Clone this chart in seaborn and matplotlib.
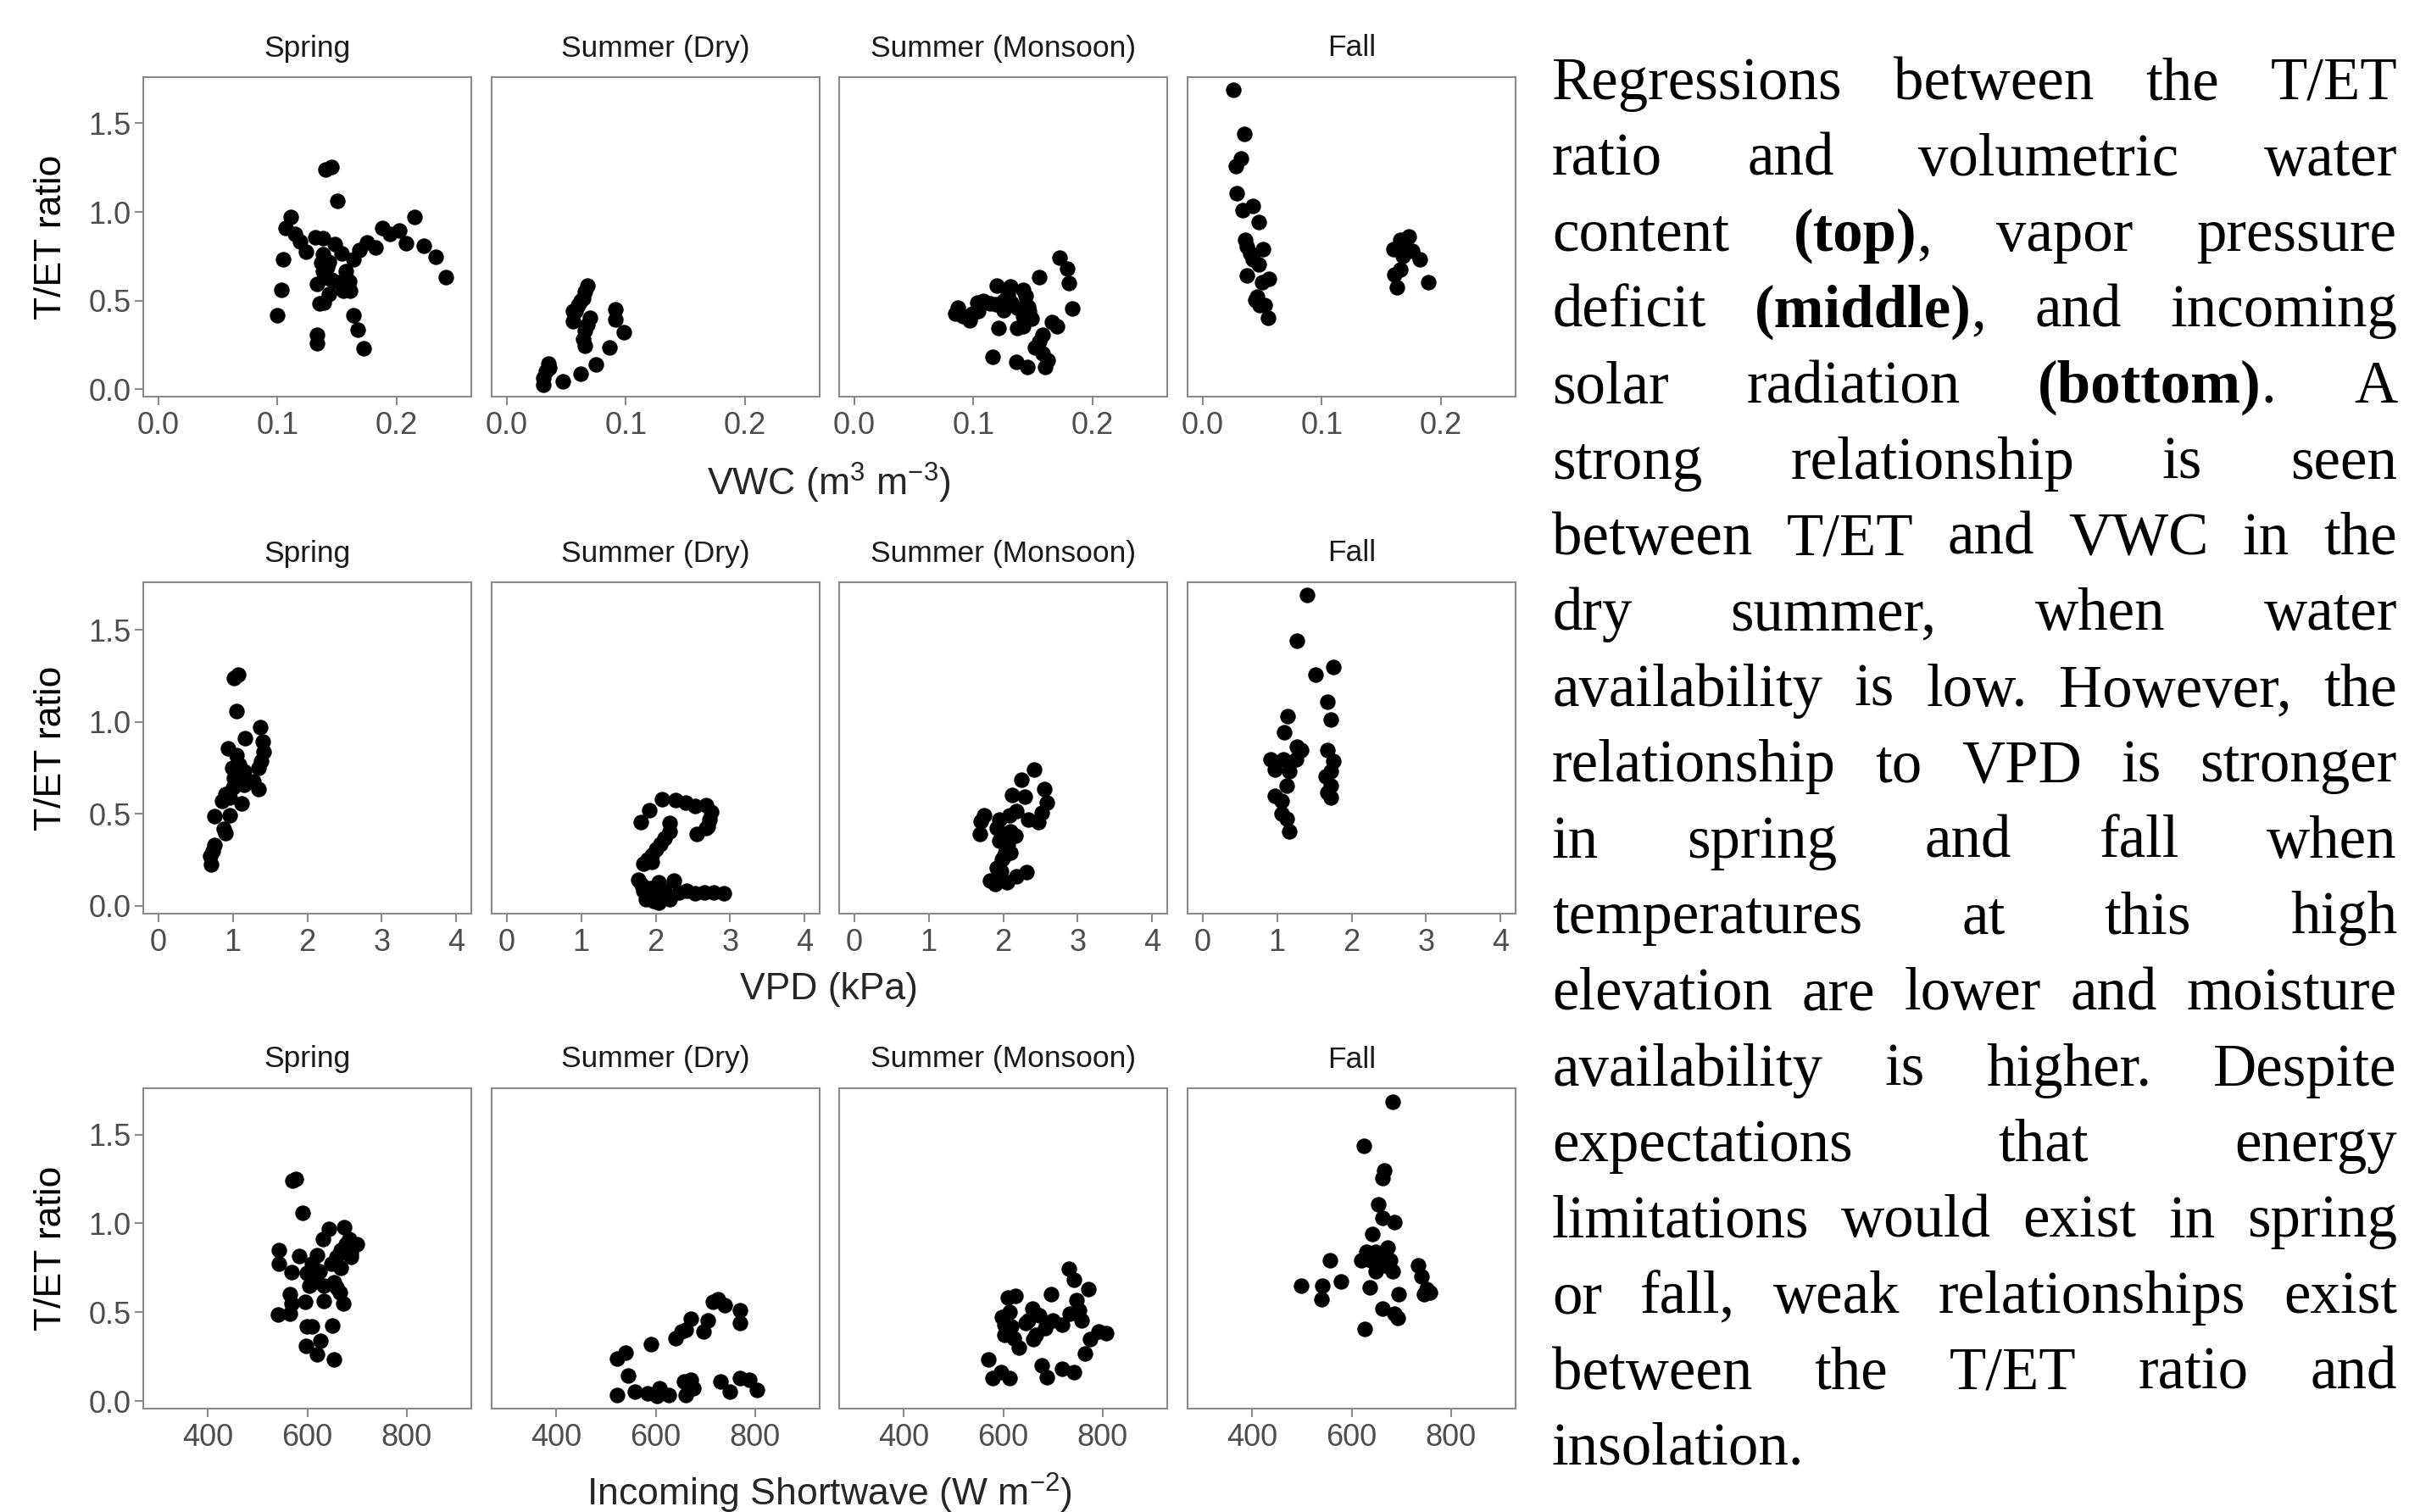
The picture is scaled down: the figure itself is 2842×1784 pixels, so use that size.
import matplotlib
matplotlib.use("Agg")
import matplotlib.pyplot as plt
import seaborn as sns
import pandas as pd

# ---------------- data ----------------
seasons = ["Spring", "Summer (Dry)", "Summer (Monsoon)", "Fall"]

# Row 1: VWC (m3 m-3) vs T/ET ratio
vwc_spring = [(0.140,1.241),(0.145,1.254),(0.150,1.062),(0.111,0.970),(0.107,0.911),(0.115,0.877),
              (0.119,0.834),(0.124,0.775),(0.132,0.858),(0.138,0.850),(0.148,0.818),(0.154,0.765),
              (0.138,0.762),(0.137,0.714),(0.143,0.717),(0.164,0.733),(0.169,0.786),(0.175,0.826),
              (0.182,0.799),(0.188,0.909),(0.194,0.874),(0.202,0.893),(0.215,0.973),(0.208,0.823),
              (0.223,0.807),(0.233,0.749),(0.241,0.634),(0.105,0.730),(0.103,0.559),(0.100,0.419),
              (0.133,0.594),(0.140,0.634),(0.145,0.618),(0.157,0.666),(0.151,0.602),(0.160,0.610),
              (0.155,0.554),(0.161,0.557),(0.143,0.538),(0.135,0.486),(0.139,0.490),(0.133,0.307),
              (0.133,0.259),(0.164,0.419),(0.167,0.334),(0.172,0.230),(0.138,0.666),(0.142,0.690)]
vwc_dry = [(0.068,0.585),(0.066,0.549),(0.064,0.512),(0.060,0.476),(0.056,0.439),(0.070,0.402),
           (0.068,0.366),(0.066,0.329),(0.064,0.283),(0.066,0.247),(0.056,0.384),(0.058,0.439),
           (0.091,0.448),(0.091,0.393),(0.098,0.320),(0.086,0.234),(0.075,0.142),(0.062,0.086),
           (0.047,0.045),(0.035,0.146),(0.033,0.100),(0.031,0.064),(0.031,0.027),(0.036,0.120),
           (0.062,0.500)]
vwc_monsoon = [(0.172,0.743),(0.179,0.682),(0.180,0.599),(0.183,0.457),(0.155,0.631),(0.120,0.586),
               (0.131,0.578),(0.142,0.562),(0.144,0.526),(0.129,0.538),(0.125,0.498),(0.132,0.490),
               (0.103,0.490),(0.108,0.498),(0.114,0.482),(0.119,0.478),(0.087,0.458),(0.085,0.427),
               (0.091,0.411),(0.097,0.387),(0.099,0.427),(0.104,0.442),(0.125,0.445),(0.137,0.458),
               (0.146,0.466),(0.147,0.442),(0.142,0.411),(0.149,0.398),(0.137,0.347),(0.142,0.355),
               (0.121,0.343),(0.166,0.379),(0.170,0.355),(0.158,0.307),(0.155,0.267),(0.152,0.235),
               (0.158,0.203),(0.162,0.163),(0.160,0.123),(0.116,0.182),(0.136,0.155),(0.145,0.126)]
vwc_fall = [(0.026,1.686),(0.035,1.440),(0.032,1.299),(0.028,1.258),(0.029,1.107),(0.034,1.010),
            (0.042,1.033),(0.047,0.942),(0.036,0.841),(0.037,0.805),(0.040,0.768),(0.042,0.731),
            (0.051,0.790),(0.047,0.704),(0.037,0.640),(0.056,0.622),(0.050,0.603),(0.044,0.503),
            (0.048,0.476),(0.052,0.476),(0.046,0.520),(0.055,0.402),(0.173,0.863),(0.166,0.841),
            (0.160,0.790),(0.170,0.790),(0.176,0.780),(0.168,0.750),(0.182,0.731),(0.166,0.677),
            (0.161,0.644),(0.189,0.603),(0.163,0.576)]

# Row 2: VPD (kPa) vs T/ET ratio
vpd_spring = [(1.02,1.239),(1.07,1.257),(1.05,1.061),(1.37,0.973),(1.17,0.910),(1.40,0.893),
              (1.41,0.839),(1.38,0.786),(1.35,0.750),(0.94,0.857),(1.05,0.822),(1.09,0.768),
              (1.15,0.732),(0.99,0.750),(1.02,0.697),(1.01,0.644),(1.28,0.679),(1.35,0.635),
              (1.15,0.660),(0.86,0.573),(0.96,0.590),(0.90,0.610),(1.12,0.555),(0.96,0.492),
              (0.76,0.487),(0.88,0.421),(0.90,0.395),(0.76,0.333),(0.73,0.297),(0.70,0.270),
              (0.71,0.226)]
vpd_dry = [(2.08,0.578),(2.27,0.575),(2.40,0.563),(2.53,0.545),(2.68,0.547),(2.75,0.513),
           (2.72,0.469),(2.70,0.435),(2.68,0.423),(2.55,0.389),(1.91,0.519),(1.80,0.457),
           (2.19,0.451),(2.19,0.407),(2.12,0.369),(2.06,0.338),(2.00,0.307),(1.95,0.276),
           (1.89,0.253),(1.83,0.229),(1.95,0.237),(1.77,0.141),(1.81,0.113),(1.83,0.082),
           (1.89,0.051),(1.97,0.028),(2.04,0.020),(2.12,0.082),(2.04,0.129),(1.93,0.098),
           (2.25,0.137),(2.19,0.036),(2.31,0.074),(2.42,0.082),(2.53,0.067),(2.65,0.074),
           (2.78,0.074),(2.91,0.067),(1.87,0.036),(2.00,0.051)]
vpd_monsoon = [(2.42,0.740),(2.25,0.686),(2.55,0.636),(2.12,0.601),(2.29,0.593),(2.58,0.562),
               (2.52,0.508),(2.47,0.457),(2.33,0.469),(2.18,0.516),(2.08,0.492),(1.74,0.492),
               (1.70,0.462),(1.69,0.392),(1.95,0.469),(1.91,0.423),(2.01,0.392),(2.10,0.407),
               (2.16,0.384),(1.95,0.353),(2.06,0.338),(2.03,0.291),(2.10,0.291),(2.01,0.268),
               (1.98,0.253),(1.91,0.206),(1.97,0.190),(2.31,0.183),(2.18,0.160),(2.05,0.129),
               (1.89,0.121),(1.82,0.137)]
vpd_fall = [(1.40,1.689),(1.27,1.444),(1.52,1.257),(1.75,1.301),(1.68,1.109),(1.72,1.013),
            (1.14,1.031),(1.10,0.946),(1.27,0.866),(1.32,0.848),(1.26,0.795),(0.91,0.795),
            (0.97,0.741),(1.08,0.795),(1.16,0.732),(1.13,0.653),(0.97,0.599),(1.06,0.573),
            (1.06,0.502),(1.13,0.475),(1.16,0.404),(1.68,0.848),(1.75,0.786),(1.72,0.732),
            (1.65,0.706),(1.72,0.653),(1.68,0.617),(1.72,0.590)]

# Row 3: Incoming shortwave (W m-2) vs T/ET ratio
sw_spring = [(570,1.241),(577,1.250),(591,1.059),(543,0.848),(543,0.775),(568,0.724),(584,0.816),
             (565,0.602),(568,0.547),(542,0.487),(565,0.493),(596,0.560),(631,0.912),(643,0.967),
             (675,0.976),(685,0.912),(687,0.830),(619,0.821),(609,0.775),(599,0.720),(614,0.675),
             (633,0.648),(604,0.648),(624,0.730),(648,0.775),(658,0.812),(668,0.848),(678,0.885),
             (687,0.876),(668,0.748),(653,0.666),(666,0.611),(673,0.547),(658,0.638),(633,0.565),
             (609,0.420),(599,0.420),(651,0.423),(597,0.310),(627,0.338),(619,0.265),(653,0.234),
             (700,0.885),(687,0.810)]
sw_dry = [(523,0.238),(540,0.274),(544,0.146),(523,0.036),(559,0.055),(583,0.046),(608,0.073),
          (603,0.028),(627,0.036),(591,0.320),(640,0.356),(652,0.392),(661,0.401),(671,0.465),
          (696,0.392),(705,0.456),(715,0.557),(725,0.575),(739,0.538),(769,0.511),(769,0.438),
          (657,0.110),(671,0.119),(661,0.036),(676,0.073),(730,0.110),(749,0.055),(769,0.128),
          (788,0.119),(803,0.064)]
sw_monsoon = [(732,0.743),(743,0.684),(771,0.630),(697,0.602),(610,0.584),(625,0.593),(748,0.566),
              (753,0.511),(758,0.456),(734,0.493),(659,0.520),(673,0.484),(651,0.456),(700,0.456),
              (719,0.429),(685,0.411),(597,0.475),(612,0.502),(602,0.429),(617,0.420),(602,0.374),
              (621,0.356),(631,0.301),(661,0.347),(665,0.374),(646,0.438),(792,0.392),(807,0.383),
              (775,0.347),(765,0.268),(570,0.234),(578,0.128),(595,0.164),(612,0.128),(678,0.201),
              (688,0.133),(719,0.183),(743,0.161)]
sw_fall = [(683,1.684),(625,1.438),(666,1.296),(663,1.254),(654,1.108),(663,1.031),(686,1.009),
           (642,0.940),(629,0.839),(649,0.839),(673,0.863),(620,0.794),(639,0.794),(678,0.794),
           (659,0.794),(649,0.730),(683,0.730),(673,0.757),(556,0.794),(734,0.766),(741,0.702),
           (498,0.648),(542,0.651),(540,0.575),(579,0.675),(637,0.639),(695,0.602),(751,0.630),
           (758,0.611),(746,0.602),(662,0.520),(686,0.493),(693,0.469),(627,0.405)]

row_data = [[vwc_spring, vwc_dry, vwc_monsoon, vwc_fall],
            [vpd_spring, vpd_dry, vpd_monsoon, vpd_fall],
            [sw_spring, sw_dry, sw_monsoon, sw_fall]]
row_xlabels = ["VWC (m$^{3}$ m$^{-3}$)", "VPD (kPa)", "Incoming Shortwave (W m$^{-2}$)"]
row_xticks = [[0.0, 0.1, 0.2], [0, 1, 2, 3, 4], [400, 600, 800]]
row_xticklabels = [["0.0", "0.1", "0.2"], ["0", "1", "2", "3", "4"], ["400", "600", "800"]]
row_xlims = [(-0.0125, 0.2625), (-0.2, 4.2), (270, 930)]
y_ticks = [0.0, 0.5, 1.0, 1.5]
y_ticklabels = ["0.0", "0.5", "1.0", "1.5"]
y_label = "T/ET ratio"

text_lines = [
    "Regressions between the T/ET",
    "ratio and volumetric water",
    "content **(top)**, vapor pressure",
    "deficit **(middle)**, and incoming",
    "solar radiation **(bottom)**. A",
    "strong relationship is seen",
    "between T/ET and VWC in the",
    "dry summer, when water",
    "availability is low. However, the",
    "relationship to VPD is stronger",
    "in spring and fall when",
    "temperatures at this high",
    "elevation are lower and moisture",
    "availability is higher. Despite",
    "expectations that energy",
    "limitations would exist in spring",
    "or fall, weak relationships exist",
    "between the T/ET ratio and",
    "insolation.",
]

# ---------------- style ----------------
sns.set_theme(style="white")
plt.rcParams["font.family"] = ["Liberation Sans", "DejaVu Sans"]
plt.rcParams["mathtext.fontset"] = "custom"
plt.rcParams["mathtext.rm"] = "Liberation Sans"
plt.rcParams["mathtext.it"] = "Liberation Sans:italic"
plt.rcParams["mathtext.bf"] = "Liberation Sans:bold"

W, H = 2842, 1784
fig = plt.figure(figsize=(W / 100, H / 100), dpi=100)
fig.patch.set_facecolor("white")

col_left = [169, 580, 990, 1401]
panel_w = 387
row_tb = [(91, 468), (687, 1078), (1284, 1662)]
frame_col = "#8A8A8A"

for r in range(3):
    top, bot = row_tb[r]
    for c in range(4):
        ax = fig.add_axes([col_left[c] / W, 1 - bot / H, panel_w / W, (bot - top) / H])
        df = pd.DataFrame(row_data[r][c], columns=["x", "tet"])
        sns.scatterplot(data=df, x="x", y="tet", ax=ax, color="black", s=175,
                        linewidth=0, legend=False, zorder=3)
        ax.set_xlim(*row_xlims[r])
        ax.set_ylim(-0.042, 1.76)
        ax.set_xticks(row_xticks[r])
        ax.set_xticklabels(row_xticklabels[r])
        ax.set_yticks(y_ticks)
        ax.set_yticklabels(y_ticklabels)
        ax.set_xlabel("")
        ax.set_ylabel("")
        ax.grid(False)
        for sp in ax.spines.values():
            sp.set_visible(True)
            sp.set_color(frame_col)
            sp.set_linewidth(1.5)
        ax.tick_params(axis="both", direction="out", length=7.5, width=1.5,
                       color=frame_col, labelsize=26, labelcolor="#4D4D4D", pad=4)
        ax.tick_params(axis="x", bottom=True, pad=5)
        if c == 0:
            ax.tick_params(axis="y", left=True, labelleft=True, pad=3)
        else:
            ax.tick_params(axis="y", left=False, labelleft=False)
        # strip title
        fig.text((col_left[c] + panel_w / 2) / W, 1 - (top - 34) / H, seasons[c],
                 ha="center", va="center", fontsize=25.5, color="#1A1A1A")
    # axis titles
    fig.text(60 / W, 1 - ((top + bot) / 2) / H, y_label, rotation=90,
             ha="center", va="center", fontsize=32, color="black")

fig.text(978 / W, 1 - 570 / H, row_xlabels[0], ha="center", va="center", fontsize=32)
fig.text(978 / W, 1 - 1167 / H, row_xlabels[1], ha="center", va="center", fontsize=32)
fig.text(978 / W, 1 - 1762 / H, row_xlabels[2], ha="center", va="center", fontsize=32)

# ---------------- justified text block ----------------
renderer = fig.canvas.get_renderer()
tx0, tx1 = 1831, 2828
base0, lead = 117, 89.5
fsize = 51
serif = ["Liberation Serif", "DejaVu Serif"]


def parse_token(tok):
    parts = tok.split("**")
    segs = []
    for i, p in enumerate(parts):
        if p:
            segs.append((p, "bold" if i % 2 == 1 else "normal"))
    return segs


def seg_width(txt, weight):
    t = fig.text(0, 0, txt, fontsize=fsize, family=serif, fontweight=weight)
    w = t.get_window_extent(renderer).width
    t.remove()
    return w


space_w = seg_width("a a", "normal") - 2 * seg_width("a", "normal")

for i, line in enumerate(text_lines):
    tokens = [parse_token(t) for t in line.split(" ")]
    widths = [[seg_width(s, wt) for s, wt in tok] for tok in tokens]
    tok_w = [sum(w) for w in widths]
    last = (i == len(text_lines) - 1)
    if len(tokens) > 1 and not last:
        gap = (tx1 - tx0 - sum(tok_w)) / (len(tokens) - 1)
    else:
        gap = space_w
    x = tx0
    ybase = 1 - (base0 + i * lead) / H
    for tok, ws in zip(tokens, widths):
        xx = x
        for (s, wt), w in zip(tok, ws):
            fig.text(xx / W, ybase, s, fontsize=fsize, family=serif, fontweight=wt,
                     ha="left", va="baseline", color="black")
            xx += w
        x += sum(ws) + gap

fig.savefig("out.png", dpi=100, facecolor="white")
